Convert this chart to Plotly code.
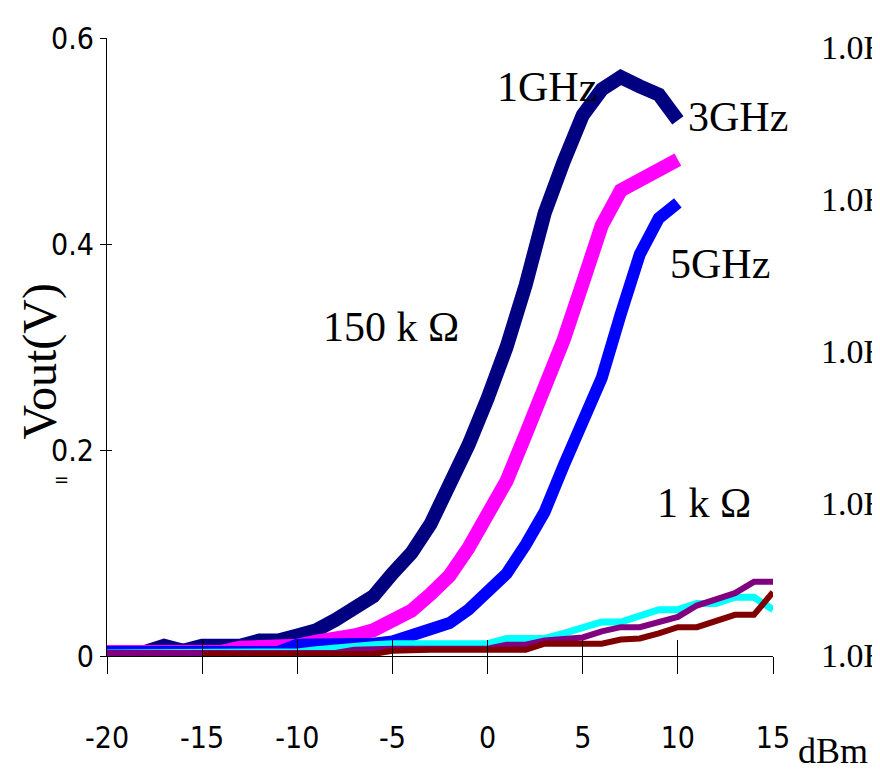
import plotly.graph_objects as go

# ---- data ----
dbm_a = list(range(-20, 11))          # 150 kOhm curves, -20..10 dBm
dbm_b = list(range(-20, 16))          # 1 kOhm curves, -20..15 dBm
dbm_c = list(range(-15, 16))          # 1 kOhm maroon curve, -15..15 dBm

hi_1ghz = [0.004, 0.004, 0.004, 0.010, 0.005, 0.010, 0.010, 0.010, 0.015, 0.015,
           0.020, 0.025, 0.035, 0.046, 0.058, 0.080, 0.100, 0.128, 0.163, 0.205,
           0.250, 0.300, 0.360, 0.430, 0.480, 0.525, 0.550, 0.562, 0.553, 0.545, 0.520]
hi_3ghz = [0.004, 0.004, 0.004, 0.004, 0.004, 0.004, 0.004, 0.008, 0.008, 0.008,
           0.010, 0.014, 0.016, 0.020, 0.025, 0.033, 0.044, 0.060, 0.078, 0.105,
           0.135, 0.170, 0.215, 0.260, 0.307, 0.362, 0.418, 0.452, 0.462, 0.472, 0.482]
hi_5ghz = [0.004, 0.004, 0.004, 0.004, 0.004, 0.004, 0.004, 0.004, 0.004, 0.004,
           0.011, 0.011, 0.011, 0.011, 0.012, 0.014, 0.020, 0.025, 0.032, 0.045,
           0.062, 0.080, 0.108, 0.140, 0.185, 0.226, 0.270, 0.332, 0.390, 0.425, 0.440]
lo_cyan = [0.003, 0.003, 0.003, 0.003, 0.003, 0.003, 0.003, 0.003, 0.003, 0.003,
           0.004, 0.006, 0.008, 0.010, 0.011, 0.012, 0.012, 0.012, 0.012, 0.012,
           0.012, 0.017, 0.017, 0.017, 0.022, 0.027, 0.033, 0.033, 0.039, 0.045,
           0.045, 0.051, 0.051, 0.057, 0.057, 0.045]
lo_purple = [0.003, 0.003, 0.003, 0.003, 0.003, 0.003, 0.003, 0.003, 0.003, 0.003,
             0.003, 0.003, 0.003, 0.006, 0.007, 0.007, 0.007, 0.007, 0.007, 0.007,
             0.007, 0.011, 0.011, 0.015, 0.016, 0.018, 0.024, 0.028, 0.028, 0.033,
             0.038, 0.049, 0.055, 0.061, 0.072, 0.072]
lo_maroon = [0.002, 0.002, 0.002, 0.002, 0.002, 0.002, 0.002, 0.002, 0.002, 0.002,
             0.005, 0.006, 0.006, 0.006, 0.006, 0.006, 0.006, 0.006, 0.012, 0.012,
             0.012, 0.012, 0.016, 0.017, 0.022, 0.028, 0.028, 0.034, 0.040, 0.040, 0.062]

x_ticks = [-20, -15, -10, -5, 0, 5, 10, 15]
x_tick_text = ["-20", "-15", "-10", "-5", "0", "5", "10", "15"]
y_ticks = [0, 0.2, 0.4, 0.6]
y_tick_text = ["0", "0.2", "0.4", "0.6"]
r_ticks = [1e-3, 1e-2, 1e-1, 1e0, 1e1]
r_tick_text = ["1.0E-03", "1.0E-02", "1.0E-01", "1.0E+00", "1.0E+01"]

NARROW = "Liberation Sans Narrow, DejaVu Sans Condensed, Arial Narrow, sans-serif"
SERIF = "Liberation Serif, Times New Roman, serif"

fig = go.Figure()
series = [
    (dbm_a, hi_1ghz, "#000080", 14),
    (dbm_a, hi_3ghz, "#FF00FF", 14),
    (dbm_a, hi_5ghz, "#0000FF", 12),
    (dbm_b, lo_cyan, "#00FFFF", 7),
    (dbm_b, lo_purple, "#800080", 6),
    (dbm_c, lo_maroon, "#800000", 6),
]
for xs, ys, col, w in series:
    fig.add_trace(go.Scatter(x=xs, y=ys, mode="lines",
                             line=dict(color=col, width=w),
                             showlegend=False, hoverinfo="skip"))

# invisible helper traces so the overlay axes (inner ticks, right log axis) get drawn
fig.add_trace(go.Scatter(x=x_ticks, y=[y_ticks[0]] * len(x_ticks), xaxis="x2", yaxis="y3",
                         mode="markers", marker=dict(opacity=0), showlegend=False,
                         hoverinfo="skip"))
fig.add_trace(go.Scatter(x=[x_ticks[0]] * len(r_ticks), y=r_ticks, xaxis="x", yaxis="y2",
                         mode="markers", marker=dict(opacity=0), showlegend=False,
                         hoverinfo="skip"))

annos = [
    ("1GHz", 3.1, 0.552),
    ("3GHz", 13.14, 0.523),
    ("5GHz", 12.24, 0.381),
    ("150 k Ω", -5.1, 0.319),
    ("1 k Ω", 11.35, 0.1485),
]
for t, ax, ay in annos:
    fig.add_annotation(text=t, x=ax, y=ay, xref="x", yref="y", showarrow=False,
                       font=dict(family=SERIF, size=42, color="black"),
                       xanchor="center", yanchor="middle")

# unit label to the right of the x axis
fig.add_annotation(text="dBm", x=1.09, y=-0.153, xref="paper", yref="paper",
                   showarrow=False, font=dict(family=SERIF, size=36, color="black"),
                   xanchor="center", yanchor="middle")

fig.add_annotation(text="Vout(V)", x=-0.101, y=0.476, xref="paper", yref="paper",
                   showarrow=False, textangle=-90,
                   font=dict(family=SERIF, size=48, color="black"),
                   xanchor="center", yanchor="middle")
fig.add_annotation(text="=", x=-0.0676, y=0.287, xref="paper", yref="paper",
                   showarrow=False, font=dict(family=NARROW, size=20, color="black"),
                   xanchor="center", yanchor="middle")

# the page body adds an 8 px offset, so the figure is 872x762 with margins shifted
fig.update_layout(
    width=872, height=762,
    margin=dict(l=99, r=107, t=30, b=114),
    paper_bgcolor="white", plot_bgcolor="white",
    xaxis=dict(range=[-20, 15], tickvals=x_ticks, ticktext=x_tick_text,
               showline=True, linecolor="black", linewidth=1,
               ticks="outside", ticklen=17, tickcolor="black", tickwidth=1,
               tickfont=dict(family=NARROW, size=30, color="black"),
               ticklabelstandoff=38, automargin=False,
               showgrid=False, zeroline=False, anchor="y"),
    xaxis2=dict(range=[-20, 15], tickvals=x_ticks, overlaying="x", anchor="y3",
                ticks="inside", ticklen=16, tickcolor="black", tickwidth=1,
                showticklabels=False, showline=False, showgrid=False, zeroline=False,
                automargin=False),
    yaxis=dict(range=[0, 0.6], tickvals=y_ticks, ticktext=y_tick_text,
               showline=True, linecolor="black", linewidth=1,
               ticks="outside", ticklen=6, tickcolor="black", tickwidth=1,
               tickfont=dict(family=NARROW, size=30, color="black"),
               ticklabelstandoff=0, automargin=False,
               showgrid=False, zeroline=False, anchor="x"),
    yaxis3=dict(range=[0, 0.6], tickvals=y_ticks, overlaying="y", anchor="x2",
                ticks="inside", ticklen=5, tickcolor="black", tickwidth=1,
                showticklabels=False, showline=False, showgrid=False, zeroline=False,
                automargin=False),
    yaxis2=dict(type="log", range=[-3.007, 1.059], tickvals=r_ticks, ticktext=r_tick_text,
                overlaying="y", side="right", anchor="x",
                showline=False, ticks="", showgrid=False, zeroline=False,
                tickfont=dict(family=SERIF, size=34, color="black"),
                ticklabelstandoff=47, automargin=False),
)

fig.write_html("out.html")
